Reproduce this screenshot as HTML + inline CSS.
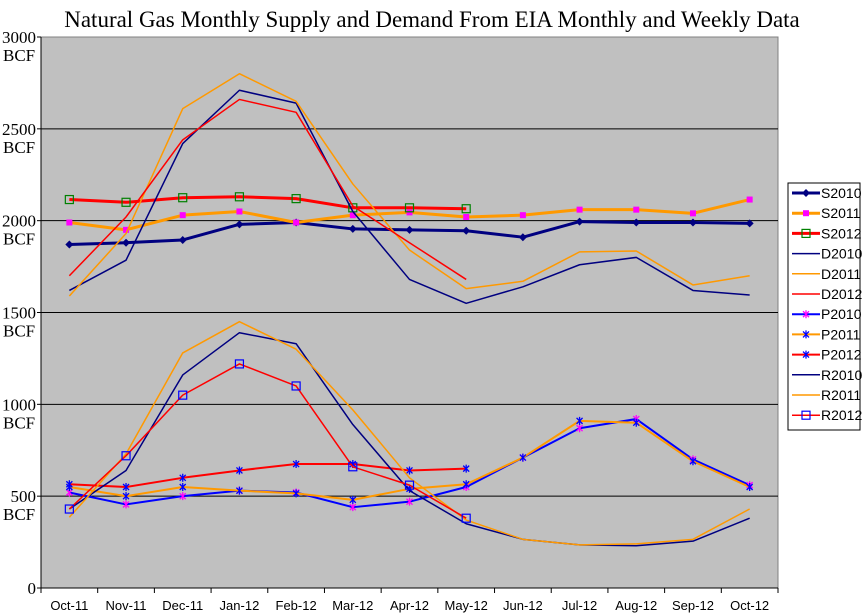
<!DOCTYPE html>
<html><head><meta charset="utf-8"><style>
body{margin:0;background:#fff;width:864px;height:616px;overflow:hidden}
svg{display:block}
</style></head><body>
<svg id="chart" width="864" height="616" xmlns="http://www.w3.org/2000/svg">
<text x="432" y="27" text-anchor="middle" font-family="Liberation Serif, serif" font-size="23">Natural Gas Monthly Supply and Demand From EIA Monthly and Weekly Data</text>
<rect x="41" y="37" width="737" height="551" fill="#c0c0c0" stroke="#808080"/>
<g id="grid"></g><g id="series"></g><g id="axes"></g>
<g>
<rect x="788" y="183" width="72" height="247" fill="#fff" stroke="#000"/>
<g id="legend"></g></g>
</svg>
<script>
const categories=["Oct-11","Nov-11","Dec-11","Jan-12","Feb-12","Mar-12","Apr-12","May-12","Jun-12","Jul-12","Aug-12","Sep-12","Oct-12"];
const yTicks=[0,500,1000,1500,2000,2500,3000];
const S2010=[1870,1880,1895,1980,1990,1955,1950,1945,1910,1995,1990,1990,1985];
const S2011=[1990,1950,2030,2050,1990,2030,2045,2020,2030,2060,2060,2040,2115];
const S2012=[2115,2100,2125,2130,2120,2070,2070,2065];
const D2010=[1620,1785,2420,2710,2640,2050,1680,1550,1640,1760,1800,1620,1595];
const D2011=[1590,1930,2610,2800,2650,2200,1840,1630,1670,1830,1835,1650,1700];
const D2012=[1700,2020,2440,2660,2590,2080,1880,1680];
const P2010=[520,455,500,530,520,440,470,550,710,870,920,700,560];
const P2011=[550,500,550,530,515,480,540,565,710,910,900,690,550];
const P2012=[565,550,600,640,675,675,640,650];
const R2010=[430,640,1160,1390,1330,890,530,350,265,235,230,255,380];
const R2011=[385,730,1280,1450,1300,970,600,370,265,235,240,265,430];
const R2012=[430,720,1050,1220,1100,660,560,380];
const NS="http://www.w3.org/2000/svg";
const L=41,R=778,T=37,B=588,YMAX=3000;
const step=(R-L)/categories.length;
const xs=i=>L+step*(i+0.5);
const ys=v=>B-(v/YMAX)*(B-T);
function mk(tag,attrs,parent){const e=document.createElementNS(NS,tag);for(const k in attrs)e.setAttribute(k,attrs[k]);parent.appendChild(e);return e;}
const grid=document.getElementById('grid'),axes=document.getElementById('axes'),sg=document.getElementById('series'),lg=document.getElementById('legend');
yTicks.forEach(v=>{
  if(v>0&&v<YMAX){const g=mk('line',{x1:L,x2:R,y1:ys(v),y2:ys(v),stroke:'#000','stroke-width':1},grid);
  
  }
  const t=mk('text',{x:36,y:ys(v)+6,'text-anchor':'end','font-family':'Liberation Serif, serif','font-size':17},axes);
  t.textContent=v;
  
  
  if(v>0){const t2=mk('text',{x:3,y:ys(v)+24,'font-family':'Liberation Serif, serif','font-size':17},axes);
  t2.textContent='BCF';
  
  }
  mk('line',{x1:L-4,x2:L,y1:ys(v),y2:ys(v),stroke:'#000'},axes);
});
mk('line',{x1:L,x2:L,y1:T,y2:B,stroke:'#000'},axes);
mk('line',{x1:L,x2:R,y1:B,y2:B,stroke:'#000'},axes);
for(let i=0;i<=categories.length;i++)mk('line',{x1:L+step*i,x2:L+step*i,y1:B,y2:B+5,stroke:'#000'},axes);
categories.forEach((c,i)=>{const t=mk('text',{x:xs(i),y:610,'text-anchor':'middle','font-family':'Liberation Sans, sans-serif','font-size':13},axes);
t.textContent=c;

});
function marker(type,x,y,col,p){
  if(type==='diamond')mk('path',{d:`M${x-4},${y}L${x},${y-4}L${x+4},${y}L${x},${y+4}Z`,fill:col},p);
  else if(type==='fsq')mk('rect',{x:x-3,y:y-3,width:6,height:6,fill:col},p);
  else if(type==='osq')mk('rect',{x:x-4,y:y-4,width:8,height:8,fill:'none',stroke:col,'stroke-width':1.2},p);
  else if(type==='star'){mk('path',{d:`M${x-3},${y-3}L${x+3},${y+3}M${x+3},${y-3}L${x-3},${y+3}M${x},${y-4}L${x},${y+4}`,stroke:col,'stroke-width':1.3},p);}
}
const series=[
 ['S2010',S2010,'#000080',3,'diamond','#000080'],
 ['S2011',S2011,'#ff9900',3,'fsq','#ff00ff'],
 ['S2012',S2012,'#ff0000',3,'osq','#008000'],
 ['D2010',D2010,'#000080',1.5,null,null],
 ['D2011',D2011,'#ff9900',1.5,null,null],
 ['D2012',D2012,'#ff0000',1.5,null,null],
 ['P2010',P2010,'#0000ff',2,'star','#ff00ff'],
 ['P2011',P2011,'#ff9900',2,'star','#0000ff'],
 ['P2012',P2012,'#ff0000',2,'star','#0000ff'],
 ['R2010',R2010,'#000080',1.5,null,null],
 ['R2011',R2011,'#ff9900',1.5,null,null],
 ['R2012',R2012,'#ff0000',1.5,'osq','#0000ff']];
series.forEach((s,k)=>{
  const [name,data,col,w,mt,mc]=s;
  const g=mk('g',{},sg);
  
  
  mk('polyline',{points:data.map((v,i)=>xs(i)+','+ys(v)).join(' '),fill:'none',stroke:col,'stroke-width':w,'stroke-linejoin':'round'},g);
  if(mt)data.forEach((v,i)=>marker(mt,xs(i),ys(v),mc,g));
  const ly=193+k*20.2;
  const le=mk('g',{},lg);
  
  
  mk('line',{x1:792,x2:820,y1:ly,y2:ly,stroke:col,'stroke-width':w},le);
  if(mt)marker(mt,806,ly,mc,le);
  const t=mk('text',{x:821,y:ly+5,'font-family':'Liberation Sans, sans-serif','font-size':14},le);
  t.textContent=name;
});
</script>
</body></html>
